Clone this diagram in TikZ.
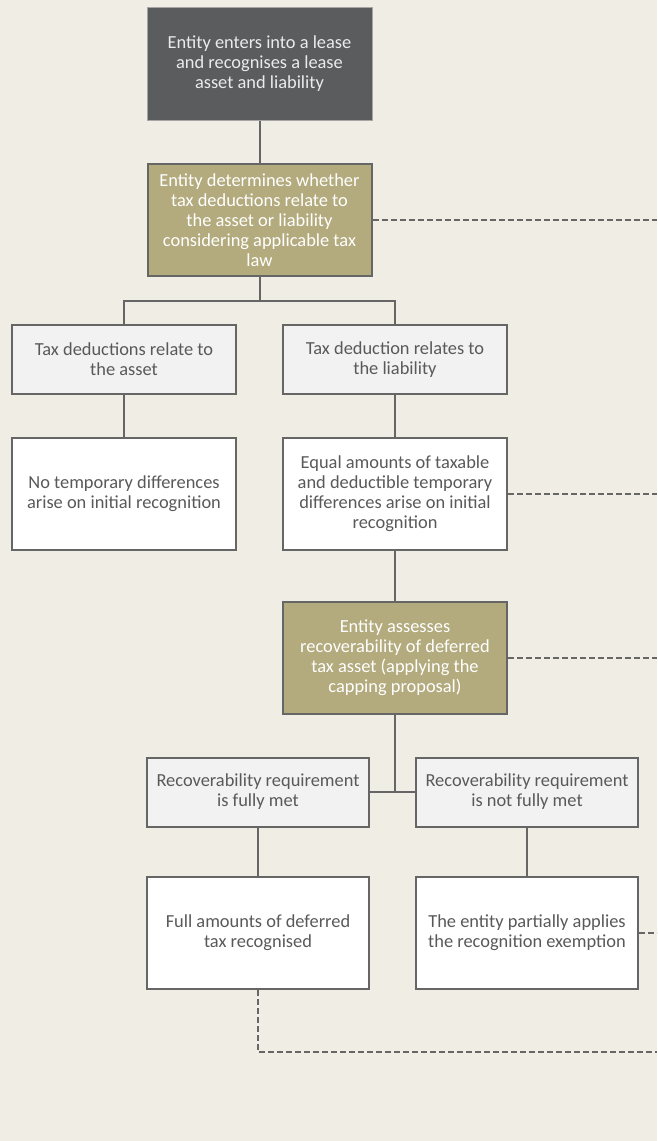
\documentclass[tikz,border=0pt]{standalone}
\usepackage{fontspec}
\setmainfont{Carlito}
\usepackage{tikz}
\usetikzlibrary{positioning}

\definecolor{paper}{HTML}{F0EDE5}
\definecolor{slate}{HTML}{5B5C5E}
\definecolor{olive}{HTML}{B3AA7D}
\definecolor{pale}{HTML}{F2F2F2}
\definecolor{wire}{HTML}{666666}
\definecolor{ink}{HTML}{595959}

\begin{document}
\begin{tikzpicture}[x=1pt,y=-1pt]
      \tikzset { box/.style = { rectangle,draw=wire,line width=2pt,align=center,inner sep=2pt,
                  font=\fontsize{18.4}{20}\selectfont } }
      \tikzset { startbox/.style = { box,fill=slate,draw=gray!70,line width=1pt,text=white!92!black,
                  minimum width=225pt,minimum height=113pt } }
      \tikzset { checkbox/.style = { box,fill=olive,text=white,minimum width=224pt,minimum height=112pt } }
      \tikzset { casebox/.style = { box,fill=pale,text=ink,minimum height=69pt } }
      \tikzset { resultbox/.style = { box,fill=white,text=ink,minimum height=112pt } }
      \tikzset { link/.style = { draw=wire,line width=2pt } }
      \tikzset { dashlink/.style = { draw=wire,line width=2pt,dash pattern=on 6pt off 3pt } }

      \fill[paper] (0,0) rectangle (657,1141);
      \useasboundingbox (0,0) rectangle (657,1141);

      \node[startbox] (lease) at (259.5,63.5) {Entity enters into a lease\\and recognises a lease\\asset and liability};
      \node[checkbox] (relate) at (259.5,220) {Entity determines whether\\tax deductions relate to\\the asset or liability\\considering applicable tax\\law};

      \node[casebox,minimum width=224pt] (asset) at (124,359.5) {Tax deductions relate to\\the asset};
      \node[casebox,minimum width=224pt] (liab) at (395,359.5) {Tax deduction relates to\\the liability};

      \node[resultbox,minimum width=224pt] (nodiff) at (124,494) {No temporary differences\\arise on initial recognition};
      \node[resultbox,minimum width=224pt] (equal) at (395,494) {Equal amounts of taxable\\and deductible temporary\\differences arise on initial\\recognition};

      \node[checkbox] (recover) at (395,658) {Entity assesses\\recoverability of deferred\\tax asset (applying the\\capping proposal)};

      \node[casebox,minimum width=222pt] (fully) at (258,792) {Recoverability requirement\\is fully met};
      \node[casebox,minimum width=222pt] (notmet) at (527,792) {Recoverability requirement\\is not fully met};

      \node[resultbox,minimum width=222pt] (full) at (258,933) {Full amounts of deferred\\tax recognised};
      \node[resultbox,minimum width=222pt] (partial) at (527,933) {The entity partially applies\\the recognition exemption};

      \coordinate (split) at (259.5,301);
      \coordinate (rim) at (657,0);
      \coordinate (floor) at (657,1052);

      \draw[link] (lease) -- (relate);
      \draw[link] (relate) -- (split);
      \draw[link] (asset.north) |- (split) -| (liab.north);
      \draw[link] (asset) -- (nodiff);
      \draw[link] (liab) -- (equal);
      \draw[link] (equal) -- (recover);
      \draw[link] (recover.south) -- (recover.south |- fully.east);
      \draw[link] (fully.east) -- (notmet.west);
      \draw[link] (fully) -- (full);
      \draw[link] (notmet) -- (partial);

      \draw[dashlink] (relate.east) -- (relate.east -| rim);
      \draw[dashlink] (equal.east) -- (equal.east -| rim);
      \draw[dashlink] (recover.east) -- (recover.east -| rim);
      \draw[dashlink] (partial.east) -- (partial.east -| rim);
      \draw[dashlink] (full.south) |- (floor);

    \end{tikzpicture}
\end{document}
